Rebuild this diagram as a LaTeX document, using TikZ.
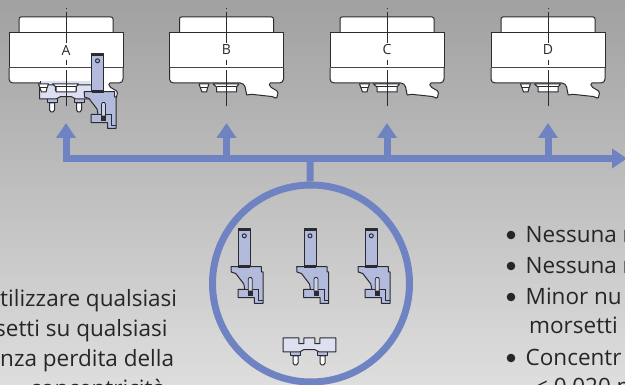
\documentclass[tikz,border=0pt]{standalone}
\usepackage{fontspec}
\setmainfont{Open Sans}
\usetikzlibrary{arrows.meta}
\definecolor{bluebar}{HTML}{6F83C3}
\definecolor{partfill}{HTML}{B3BBDD}
\definecolor{basefill}{HTML}{DDE0F0}
\definecolor{inkline}{HTML}{2A2A30}
\tikzset{
  busline/.style = {draw = bluebar, line width = 7pt},
  busarrow/.style = {busline, -{Triangle[width = 19pt, length = 15pt]}},
  outline/.style = {draw = inkline, line width = 1pt, line join = round},
  bodytext/.style = {anchor = base west, inner sep = 0pt, text = black!85, font = \fontsize{22.5}{26}\selectfont},
  headunit/.pic = {
    \draw [outline, fill = white, rounded corners = 2pt] (-47,0) -- (-47,-16) -- (47,-16) -- (47,0);
    \draw [outline, fill = white] (-57,0) -- (57,0) -- (57,35) -- (-57,35) -- cycle;
    \draw [outline, fill = white, rounded corners = 4pt] (-57,35) -- (-57,50) -- (17.8,50)
      [sharp corners] -- (20.2,62) -- (25,61.3) [rounded corners = 1.5pt] -- (47,63.7) -- (50,66) -- (51.8,58.7) -- (43.5,53.7) -- (42.5,50) -- (52,50)
      [rounded corners = 4pt] -- (57,50) -- (57,35);
  },
  underside/.pic = {
    \draw [outline, fill = white] (-27.5,1) -- (-17.5,1) -- (-19,5) -- (-20,9) -- (-24.5,9) -- (-26,5) -- cycle;
    \draw [outline] (-26,4.5) -- (-19,4.5);
    \draw [outline, fill = white] (-13.5,1) -- (12.5,1) -- (10,4) -- (10,9) -- (-10,9) -- (-10,4) -- cycle;
    \draw [outline] (-10,4) -- (10,4);
  },
  clampbase/.pic = {
    \foreach \x in {-14,13} {
      \draw [outline, fill = white] (\x-2.5,18) -- (\x-2.5,25) -- (\x-1,27) -- (\x+1,27) -- (\x+2.5,25) -- (\x+2.5,18) -- cycle;
      \draw [outline, fill = partfill] (\x-5,14) rectangle (\x+5,18);
    }
    \draw [outline, fill = basefill] (-26.3,0) -- (-10.7,0) -- (-10.7,5.7) -- (-5.7,5.7) -- (-5.7,0) -- (5.3,0) -- (5.3,5.7) -- (10.3,5.7) -- (10.3,0) -- (26.3,0) -- (26.3,14) -- (10,14) -- (5.3,11.7) -- (-5.7,11.7) -- (-10,14) -- (-26.3,14) -- cycle;
  },
  clampjaw/.pic = {
    \draw [outline, fill = partfill] (-6.5,0) rectangle (5.5,38);
    \fill [inkline] (-6.5,0) rectangle (5.5,2.2);
    \draw [outline] (-0.5,6.8) circle (2);
    \draw [outline, fill = partfill] (-13.8,37.7) -- (-13.5,43) -- (-9,44.5) -- (-1,55) -- (0,60.3) -- (-6.8,60.3) -- (-6.8,68.6) -- (9.5,68.6) -- (9.5,74.3) -- (18.2,74.3) -- (18.2,43) -- (16.5,43) -- (16.5,37.7) -- cycle;
    \fill [inkline] (-6.5,36.5) rectangle (5.5,38.7);
    \draw [outline, line width = 0.7pt] (13.5,60.3) -- (13.5,71) -- (18.2,71);
    \draw [outline, line width = 0.7pt] (0,60.3) -- (13.5,60.3);
    \draw [outline, fill = basefill!60!partfill, line width = 0.8pt] (3.5,50) -- (4.5,48.5) -- (6.5,48.5) -- (7.5,50) -- (7.5,62) -- (3.5,62) -- cycle;
    \fill [inkline] (3,62.5) rectangle (8,67);
  }
}
\begin{document}
\begin{tikzpicture}[x = 1pt, y = -1pt]
\useasboundingbox (0,0) rectangle (625,385);
\clip (0,0) rectangle (625,385);
\shade [top color = black!37, bottom color = black!13] (0,0) rectangle (625,385);
% tool heads
\foreach \n/\x in {A/66,B/226.5,C/387,D/548} {
  \pic at (\x,33) {headunit};
  \coordinate (bus\n) at (\x,158.5);
  \coordinate (tip\n) at (\x,123);
}
\fill [basefill] (40,81.5) rectangle (90,86);
\draw [outline] (40,81.5) -- (40,86);
\pic at (66,85) {clampbase};
\foreach \x in {66,226.5,387,548} \pic at (\x,83) {underside};
\pic at (98,54) {clampjaw};
\foreach \n/\x in {A/66,B/226.5,C/387,D/548} {
  \node [inner sep = 0pt, font = \fontsize{14}{16}\selectfont, text = inkline] (label\n) at (\x,50) {\n};
  \draw [draw = inkline, line width = 0.5pt, dash pattern = on 1pt off 3pt on 31pt off 17pt on 5pt off 5pt on 36pt] (\x,8) -- (\x,106);
}
% bus
\coordinate (busstart) at (62.5,158.5);
\coordinate (busend) at (627,158.5);
\coordinate (stem) at (310,158.5);
\node [circle, draw = bluebar, line width = 7pt, minimum size = 197pt, inner sep = 0pt] (clampring) at (311,283.5) {};
\draw [busarrow] (busstart) -- (busend);
\foreach \n in {A,B,C,D} \draw [busarrow] (bus\n) -- (tip\n);
\draw [busline] (stem) -- (clampring);
% inside the ring
\foreach \x in {244.8,310.5,371.8} \pic at (\x,229) {clampjaw};
\pic at (309.5,338) {clampbase};
% text
\node [bodytext] (leftA) at (0,306.7) {tilizzare qualsiasi};
\node [bodytext] (leftB) at (-5,337) {setti su qualsiasi};
\node [bodytext] (leftC) at (0,366.7) {nza perdita della};
\node [bodytext] (leftD) at (30,396) {concentricità};
\foreach \n/\y/\t in {A/243/Nessuna r,B/274/Nessuna r,C/305/Minor nu,D/366/Concentr} {
  \fill [black!85] (511,\y-8) circle (4.3);
  \node [bodytext] (right\n) at (525.5,\y) {\t};
}
\node [bodytext] (rightE) at (529,334) {morsetti};
\node [bodytext] (rightF) at (535,395) {< 0,020 m};
\end{tikzpicture}
\end{document}
